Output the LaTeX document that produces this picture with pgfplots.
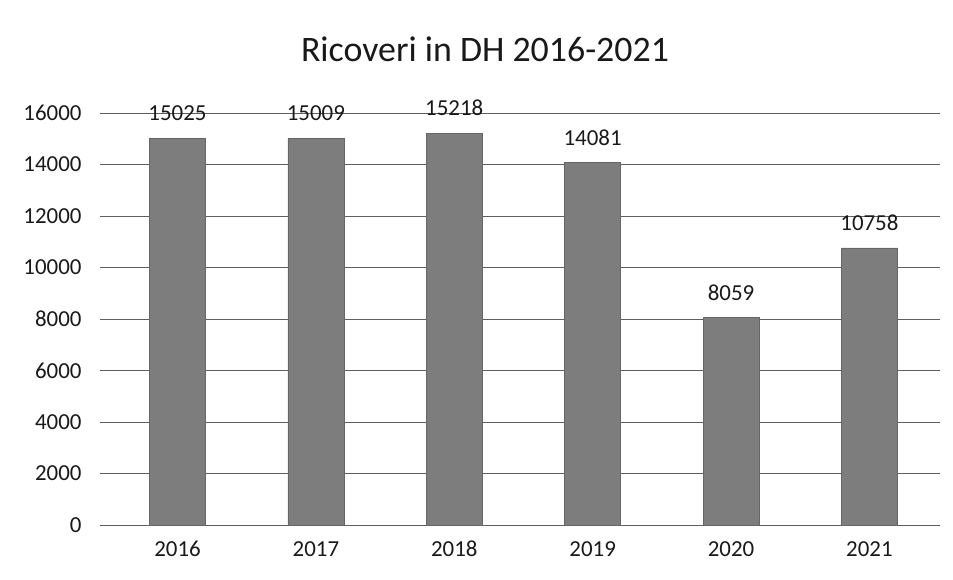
\documentclass[border=0pt]{standalone}
\usepackage{pgfplots}
\pgfplotsset{compat=1.18}
\usepackage{fontspec}
\setmainfont{Carlito}
\definecolor{barc}{RGB}{125,125,125}
\definecolor{gridc}{RGB}{95,95,95}
\begin{document}
\begin{tikzpicture}
\path (0,0) rectangle (953bp,580bp);
\begin{axis}[
  at={(100bp,55bp)}, anchor=south west,
  scale only axis, width=840bp, height=412bp,
  xmin=-0.56, xmax=5.51, ymin=0, ymax=16000,
  xtick=data, xticklabels={2016,2017,2018,2019,2020,2021},
  ytick={0,2000,...,16000},
  scaled y ticks=false,
  ymajorgrids, major grid style={gridc, line width=0.8pt},
  axis line style={draw=none},
  axis x line*=bottom,
  major tick length=0pt,
  ybar, bar width=56bp,
  /pgf/number format/assume math mode=true,
  /pgf/number format/1000 sep={},
  ticklabel style={font=\fontsize{23}{25}\selectfont, text=black!90},
  xticklabel style={anchor=center, yshift=-24bp},
  yticklabel style={anchor=east, xshift=-15bp},
  nodes near coords,
  nodes near coords style={font=\fontsize{23}{25}\selectfont, text=black!90, /pgf/number format/1000 sep={}, anchor=center, yshift=25bp},
  clip=false,
  title={Ricoveri in DH 2016-2021},
  title style={font=\fontsize{36}{38}\selectfont, text=black!90, at={(0.5,1)}, anchor=base, yshift=46bp, xshift=-35bp},
]
\addplot[fill=barc, draw=black!60] coordinates {(0,15025) (1,15009) (2,15218) (3,14081) (4,8059) (5,10758)};
\end{axis}
\end{tikzpicture}
\end{document}
